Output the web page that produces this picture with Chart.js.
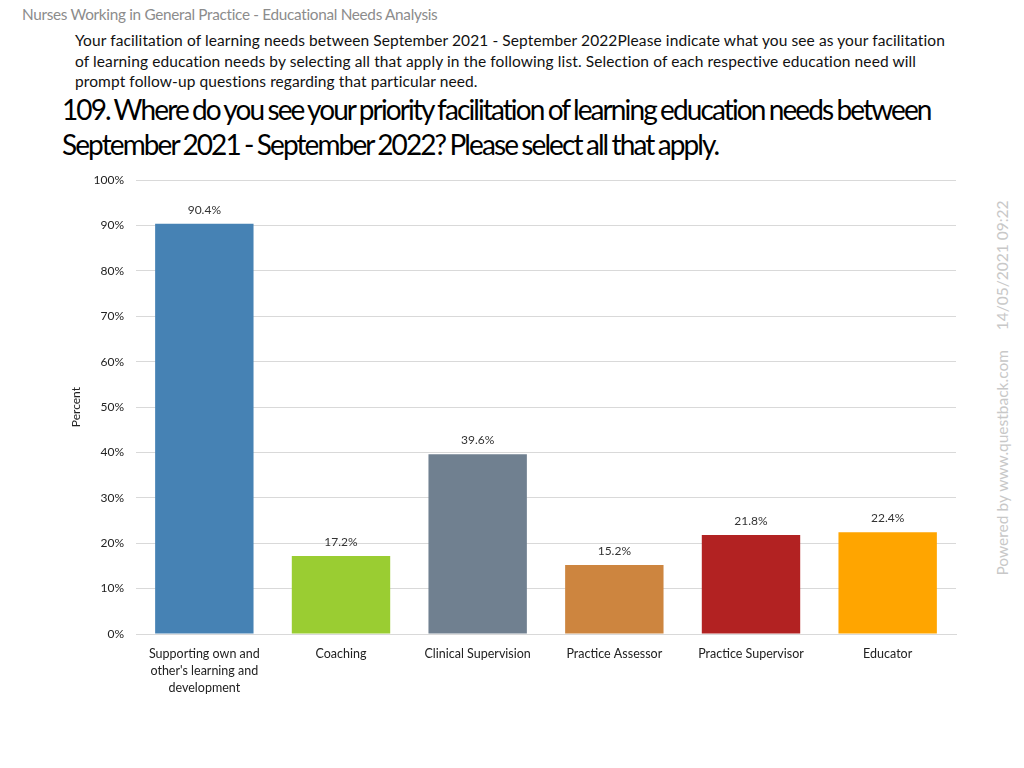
<!DOCTYPE html>
<html>
<head>
<meta charset="utf-8">
<script src="https://cdn.jsdelivr.net/npm/chart.js@4/dist/chart.umd.min.js"></script>
<style>
  body { margin: 0; width: 1024px; height: 768px; background: #fff; font-family: Lato, 'Open Sans', sans-serif; position: relative; overflow: hidden; }
  .top { position: absolute; left: 22px; top: 5px; font-size: 15.3px; color: #8c8c8c; letter-spacing: -0.3px; }
  .sub { position: absolute; left: 75px; top: 30px; font-size: 15.5px; color: #111; line-height: 20.5px; letter-spacing: 0.1px; }
  .title { position: absolute; left: 62px; top: 92px; font-size: 28px; color: #000; line-height: 35px; letter-spacing: -1.9px; word-spacing: -1px; }
  .sub div, .title div { white-space: nowrap; }
  .mark { position: absolute; left: 1002px; top: 388px; transform: translate(-50%, -50%) rotate(-90deg); font-size: 15.5px; color: #c8c8c8; white-space: nowrap; }
  #wrap { position: absolute; left: 60px; top: 161px; width: 900px; height: 549px; }
</style>
</head>
<body>
<div class="top">Nurses Working in General Practice - Educational Needs Analysis</div>
<div class="sub">
  <div>Your facilitation of learning needs between September 2021 - September 2022Please indicate what you see as your facilitation</div>
  <div>of learning education needs by selecting all that apply in the following list. Selection of each respective education need will</div>
  <div>prompt follow-up questions regarding that particular need.</div>
</div>
<div class="title">
  <div>109. Where do you see your priority facilitation of learning education needs between</div>
  <div>September 2021 - September 2022? Please select all that apply.</div>
</div>
<div class="mark">Powered by www.questback.com &nbsp;&nbsp;&nbsp; 14/05/2021 09:22</div>
<div id="wrap"><canvas id="chart"></canvas></div>
<script>
const categories = [
  ['Supporting own and', "other's learning and", 'development'],
  'Coaching',
  'Clinical Supervision',
  'Practice Assessor',
  'Practice Supervisor',
  'Educator'
];
const percents = [90.4, 17.2, 39.6, 15.2, 21.8, 22.4];
const barColors = ['#4682B4', '#9ACD32', '#708090', '#CD853F', '#B22222', '#FFA500'];
const yTicks = [0, 10, 20, 30, 40, 50, 60, 70, 80, 90, 100];

// value labels above each bar
const valueLabels = {
  id: 'valueLabels',
  afterDatasetsDraw(chart) {
    const ctx = chart.ctx;
    const meta = chart.getDatasetMeta(0);
    ctx.save();
    ctx.font = '12px Lato, sans-serif';
    ctx.fillStyle = '#333';
    ctx.textAlign = 'center';
    ctx.textBaseline = 'bottom';
    meta.data.forEach((bar, i) => {
      ctx.fillText(percents[i].toFixed(1) + '%', bar.x, bar.y - 8);
    });
    ctx.restore();
  }
};

new Chart(document.getElementById('chart'), {
  type: 'bar',
  data: {
    labels: categories,
    datasets: [{
      data: percents,
      backgroundColor: barColors,
      categoryPercentage: 0.8,
      barPercentage: 0.9
    }]
  },
  options: {
    responsive: true,
    maintainAspectRatio: false,
    animation: false,
    layout: { padding: { top: 0, right: 4 } },
    plugins: { legend: { display: false }, tooltip: { enabled: false } },
    scales: {
      y: {
        min: 0,
        max: 100,
        afterFit: (s) => { s.width = 76; },
        afterBuildTicks: (s) => { s.ticks = yTicks.map(v => ({ value: v })); },
        grid: { color: '#d9d9d9', drawTicks: false },
        border: { display: false },
        ticks: { color: '#222', font: { size: 12, family: 'Lato' }, padding: 12, callback: (v) => v + '%' },
        title: { display: true, text: 'Percent', color: '#222', font: { size: 12, family: 'Lato' }, padding: { top: 9, bottom: 14 } }
      },
      x: {
        afterFit: (s) => { s.height = 76; },
        grid: { display: false },
        border: { color: '#d9d9d9' },
        ticks: { color: '#222', font: { size: 12.5, family: 'Lato', lineHeight: 1.35 }, padding: 4, maxRotation: 0, autoSkip: false }
      }
    }
  },
  plugins: [valueLabels]
});
</script>
</body>
</html>
